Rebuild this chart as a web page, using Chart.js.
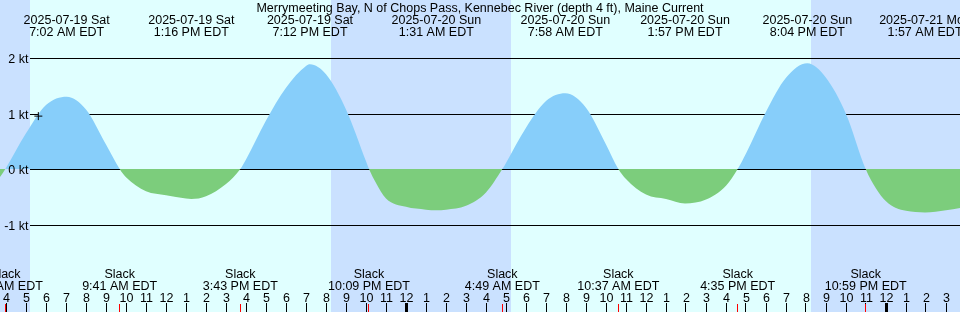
<!DOCTYPE html>
<html><head><meta charset="utf-8">
<script src="https://cdn.jsdelivr.net/npm/chart.js@4.4.1/dist/chart.umd.min.js"></script>
<style>html,body{margin:0;padding:0;overflow:hidden;background:#E0FFFF}#wrap{width:960px;height:312px}</style>
</head><body><div id="wrap"><canvas id="c" width="960" height="312"></canvas></div>
<script>
// ---------- DATA (times are "DD HH:MM", July 2025, EDT) ----------
const title = 'Merrymeeting Bay, N of Chops Pass, Kennebec River (depth 4 ft), Maine Current';

const curveTimes = [
  '19 03:30','19 03:58','19 05:00','19 06:00','19 07:02','19 08:00','19 09:00','19 09:41',
  '19 10:00','19 11:00','19 12:00','19 13:00','19 13:16','19 14:00','19 15:00','19 15:43',
  '19 16:00','19 17:00','19 18:00','19 19:00','19 19:12','19 20:00','19 21:00','19 22:00','19 22:09',
  '19 22:30','19 23:00','20 00:00','20 01:00','20 01:31','20 02:00','20 03:00','20 04:00','20 04:49',
  '20 05:00','20 06:00','20 07:00','20 07:58','20 09:00','20 10:00','20 10:37',
  '20 11:00','20 12:00','20 13:00','20 13:57','20 15:00','20 16:00','20 16:35',
  '20 17:00','20 18:00','20 19:00','20 20:04','20 21:00','20 22:00','20 22:59',
  '20 23:30','21 00:00','21 00:30','21 01:00','21 01:57','21 03:00','21 04:00'
];
const curveSpeeds = [
  -0.25, 0.00, 0.64, 1.15, 1.30, 1.07, 0.44, 0.00,
  -0.15, -0.40, -0.47, -0.53, -0.54, -0.49, -0.27, 0.00,
  0.17, 0.87, 1.46, 1.85, 1.88, 1.70, 1.07, 0.14, 0.00,
  -0.25, -0.53, -0.68, -0.73, -0.74, -0.73, -0.66, -0.42, 0.00,
  0.11, 0.74, 1.22, 1.36, 1.10, 0.44, 0.00,
  -0.18, -0.46, -0.54, -0.62, -0.55, -0.30, 0.00,
  0.28, 1.03, 1.64, 1.90, 1.64, 0.99, 0.00,
  -0.35, -0.58, -0.70, -0.75, -0.78, -0.74, -0.68
];

const extremaTimes = ['19 07:02','19 13:16','19 19:12','20 01:31','20 07:58','20 13:57','20 20:04','21 01:57'];
const extremaDates = ['2025-07-19 Sat','2025-07-19 Sat','2025-07-19 Sat','2025-07-20 Sun','2025-07-20 Sun','2025-07-20 Sun','2025-07-20 Sun','2025-07-21 Mon'];
const extremaClock = ['7:02 AM EDT','1:16 PM EDT','7:12 PM EDT','1:31 AM EDT','7:58 AM EDT','1:57 PM EDT','8:04 PM EDT','1:57 AM EDT'];

const slackTimes = ['19 03:58','19 09:41','19 15:43','19 22:09','20 04:49','20 10:37','20 16:35','20 22:59'];
const slackClock = ['3:58 AM EDT','9:41 AM EDT','3:43 PM EDT','10:09 PM EDT','4:49 AM EDT','10:37 AM EDT','4:35 PM EDT','10:59 PM EDT'];

const sunriseTimes = ['19 05:12','20 05:15'];
const sunsetTimes  = ['19 20:15','20 20:15'];

const yTickValues = [2, 1, 0, -1];
const yTickLabels = ['2 kt', '1 kt', '0 kt', '-1 kt'];

const markerTimes = ['19 05:37'];
const markerSpeeds = [0.95];

// ---------- helpers ----------
const H = s => { const [d, hm] = s.split(' '); const [hh, mm] = hm.split(':').map(Number); return (Number(d) - 20) * 24 + hh + mm / 60; };
const FONT = '12.5px "Liberation Sans", Arial, sans-serif';
const DAY = '#E0FFFF', NIGHT = '#CAE1FF', FLOOD = '#87CEFA', EBB = '#7CCD7C';

const decor = {
  id: 'decor',
  beforeDatasetsDraw(chart) {
    const {ctx, scales: {x, y}} = chart;
    ctx.save();
    ctx.fillStyle = NIGHT; ctx.fillRect(0, 0, chart.width, chart.height);
    ctx.fillStyle = DAY;
    sunriseTimes.forEach((t, i) => {
      const x0 = Math.round(x.getPixelForValue(H(t))), x1 = Math.round(x.getPixelForValue(H(sunsetTimes[i])));
      ctx.fillRect(x0, 0, x1 - x0, chart.height);
    });
    ctx.strokeStyle = '#000'; ctx.lineWidth = 1;
    yTickValues.forEach(v => {
      const r = Math.ceil(y.getPixelForValue(v)) + 0.5;
      ctx.beginPath(); ctx.moveTo(30, r); ctx.lineTo(chart.width, r); ctx.stroke();
    });
    ctx.restore();
  },
  afterDatasetsDraw(chart) {
    const {ctx, scales: {x, y}} = chart;
    ctx.save();
    ctx.font = FONT; ctx.fillStyle = '#000'; ctx.textBaseline = 'alphabetic';
    ctx.textAlign = 'right';
    yTickValues.forEach((v, i) => {
      const r = Math.ceil(y.getPixelForValue(v));
      ctx.fillText(yTickLabels[i], 28.5, r + 5);
    });
    ctx.textAlign = 'center';
    ctx.fillText(title, 480, 12);
    extremaTimes.forEach((t, i) => {
      const px = x.getPixelForValue(H(t));
      ctx.fillText(extremaDates[i], px, 24);
      ctx.fillText(extremaClock[i], px, 36);
    });
    slackTimes.forEach((t, i) => {
      const px = x.getPixelForValue(H(t));
      ctx.fillText('Slack', px, 278);
      ctx.fillText(slackClock[i], px, 290);
    });
    for (let h = Math.ceil(x.min); h <= Math.floor(x.max); h++) {
      const px = x.getPixelForValue(h);
      const hod = ((h % 24) + 24) % 24;
      const lab = String(hod % 12 === 0 ? 12 : hod % 12);
      ctx.fillStyle = '#000';
      ctx.fillText(lab, px + 0.5, 302);
      if (hod === 0) ctx.fillRect(Math.floor(px) - 1, 303, 3, 9);
      else ctx.fillRect(Math.floor(px), 303, 1, 9);
    }
    ctx.fillStyle = '#FF0000';
    slackTimes.forEach(t => {
      const px = x.getPixelForValue(H(t));
      ctx.fillRect(Math.floor(px), 304, 1, 8);
    });
    ctx.restore();
  }
};

new Chart(document.getElementById('c'), {
  type: 'line',
  data: {
    datasets: [
      {
        data: curveTimes.map((t, i) => ({x: H(t), y: curveSpeeds[i]})),
        order: 2,
        borderWidth: 0, borderColor: 'rgba(0,0,0,0)', backgroundColor: FLOOD,
        pointRadius: 0, pointHoverRadius: 0, cubicInterpolationMode: 'monotone',
        fill: {target: 'origin', above: FLOOD, below: EBB}
      },
      {
        data: markerTimes.map((t, i) => ({x: H(t), y: markerSpeeds[i]})),
        order: 1,
        showLine: false, fill: false, pointStyle: 'cross', pointRadius: 4, pointHoverRadius: 0,
        borderColor: '#000', borderWidth: 1, backgroundColor: '#000'
      }
    ]
  },
  options: {
    responsive: false, animation: false, events: [],
    layout: {padding: 0, autoPadding: false},
    plugins: {legend: {display: false}, tooltip: {enabled: false}},
    scales: {
      x: {type: 'linear', min: -20.3, max: 27.7, display: false},
      y: {type: 'linear', min: -2.5687, max: 3.0357, display: false}
    }
  },
  plugins: [decor]
});
</script>
</body></html>
